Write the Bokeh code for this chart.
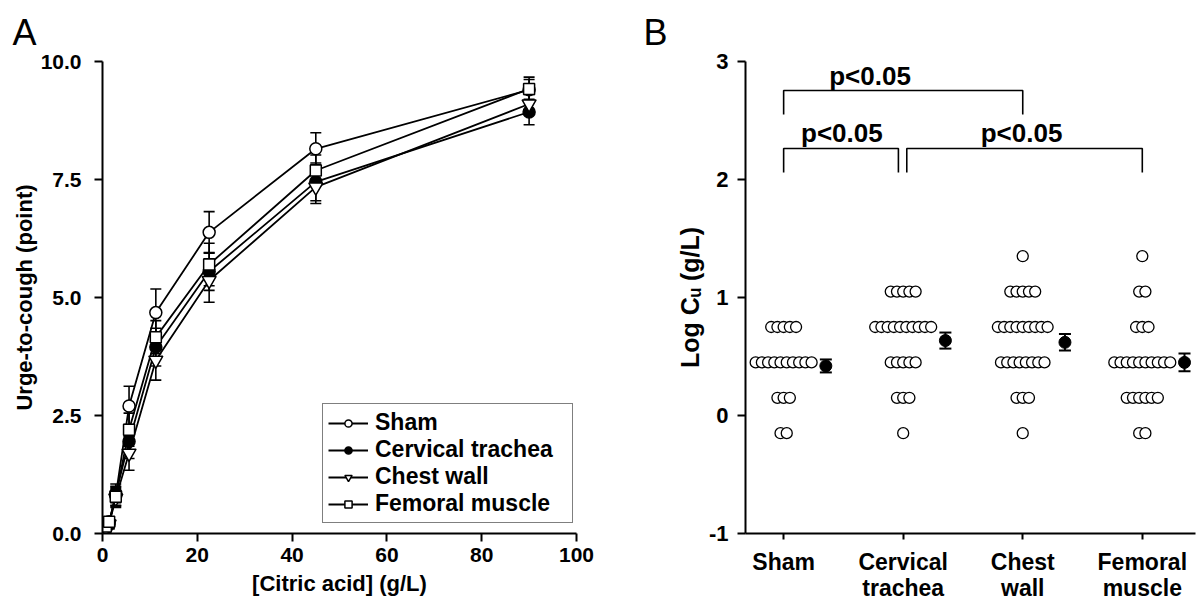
import numpy as np
from bokeh.plotting import figure
from bokeh.layouts import row
from bokeh.models import (ColumnDataSource, Whisker, TeeHead, FixedTicker,
                          NumeralTickFormatter, Legend, LegendItem, Range1d)
from bokeh.core.properties import value
from bokeh.embed import file_html
from bokeh.resources import INLINE

FONT = "Liberation Sans"

# ---------------- Panel A data ----------------
citric_acid = [0.7, 1.4, 2.8, 5.6, 11.25, 22.5, 45, 90]
series_names = ["Sham", "Cervical trachea", "Chest wall", "Femoral muscle"]
sham_mean = [0.10, 0.25, 0.80, 2.70, 4.68, 6.38, 8.15, 9.40]
sham_sem = [0.05, 0.10, 0.20, 0.42, 0.50, 0.44, 0.34, 0.22]
cerv_mean = [0.10, 0.20, 0.85, 1.95, 3.95, 5.55, 7.45, 8.93]
cerv_sem = [0.05, 0.10, 0.20, 0.36, 0.40, 0.40, 0.40, 0.27]
chest_mean = [0.10, 0.20, 0.75, 1.70, 3.67, 5.36, 7.34, 9.10]
chest_sem = [0.05, 0.10, 0.20, 0.36, 0.42, 0.46, 0.35, 0.20]
fem_mean = [0.15, 0.25, 0.78, 2.20, 4.16, 5.70, 7.69, 9.42]
fem_sem = [0.05, 0.10, 0.20, 0.35, 0.35, 0.45, 0.33, 0.25]
a_yticks = [0, 2.5, 5, 7.5, 10]
a_xticks = [0, 20, 40, 60, 80, 100]

# ---------------- Panel B data ----------------
group_labels = ["Sham", "Cervical\ntrachea", "Chest\nwall", "Femoral\nmuscle"]
sham_logcu = [0.75, 0.75, 0.75, 0.75, 0.75,
              0.45, 0.45, 0.45, 0.45, 0.45, 0.45, 0.45, 0.45, 0.45, 0.45,
              0.15, 0.15, 0.15, -0.15, -0.15]
cerv_logcu = [1.05, 1.05, 1.05, 1.05, 1.05,
              0.75, 0.75, 0.75, 0.75, 0.75, 0.75, 0.75, 0.75, 0.75, 0.75,
              0.45, 0.45, 0.45, 0.45, 0.45,
              0.15, 0.15, 0.15, -0.15]
chest_logcu = [1.35, 1.05, 1.05, 1.05, 1.05, 1.05,
               0.75, 0.75, 0.75, 0.75, 0.75, 0.75, 0.75, 0.75, 0.75,
               0.45, 0.45, 0.45, 0.45, 0.45, 0.45, 0.45, 0.45,
               0.15, 0.15, 0.15, -0.15]
fem_logcu = [1.35, 1.05, 1.05, 0.75, 0.75, 0.75,
             0.45, 0.45, 0.45, 0.45, 0.45, 0.45, 0.45, 0.45, 0.45, 0.45,
             0.15, 0.15, 0.15, 0.15, 0.15, 0.15, -0.15, -0.15]
group_mean = [0.42, 0.635, 0.62, 0.45]
group_sem = [0.055, 0.068, 0.07, 0.075]
b_yticks = [-1, 0, 1, 2, 3]
b_ytick_labels = ["-1", "0", "1", "2", "3"]
sig_label = "p<0.05"


def style_axes(p, tick_size):
    for ax in (p.xaxis, p.yaxis):
        ax.axis_line_width = 2
        ax.axis_line_color = "black"
        ax.major_tick_line_width = 2
        ax.major_tick_line_color = "black"
        ax.major_tick_out = 8
        ax.major_tick_in = 0
        ax.minor_tick_line_color = None
        ax.major_label_text_font = FONT
        ax.major_label_text_font_style = "bold"
        ax.major_label_text_font_size = tick_size
        ax.major_label_text_color = "black"
        ax.axis_label_text_font = FONT
        ax.axis_label_text_font_style = "bold"
        ax.axis_label_text_font_size = "22px"
        ax.axis_label_text_color = "black"
    p.xgrid.visible = False
    p.ygrid.visible = False
    p.outline_line_color = None
    p.background_fill_color = "white"
    p.border_fill_color = "white"
    p.title.text_font = FONT
    p.title.text_font_style = "normal"
    p.title.text_font_size = "36px"
    p.title.text_color = "black"
    p.title.align = "left"
    p.title.standoff = 18


H = 606
# ================= Panel A =================
pA = figure(width=610, height=H, x_range=Range1d(0, 100), y_range=Range1d(0, 10),
            output_backend="svg", toolbar_location=None, title="A",
            min_border_left=102, min_border_right=34, min_border_top=61,
            min_border_bottom=H - 533)
style_axes(pA, "21px")
pA.title.offset = -90
pA.xaxis.ticker = FixedTicker(ticks=a_xticks)
pA.yaxis.ticker = FixedTicker(ticks=a_yticks)
pA.yaxis.formatter = NumeralTickFormatter(format="0.0")
pA.xaxis.axis_label = "[Citric acid] (g/L)"
pA.yaxis.axis_label = "Urge-to-cough (point)"
pA.xaxis.major_label_standoff = 6
pA.yaxis.major_label_standoff = 13
pA.xaxis.axis_label_standoff = 6
pA.yaxis.axis_label_standoff = 1

series = [
    (sham_mean, sham_sem, "circle", "white", 12),
    (cerv_mean, cerv_sem, "circle", "black", 12),
    (chest_mean, chest_sem, "inverted_triangle", "white", 14),
    (fem_mean, fem_sem, "square", "white", 11),
]
line_rs = []
for (m, s, mk, fill, sz) in series:
    line_rs.append(pA.line(citric_acid, m, line_color="black", line_width=1.8))
for (m, s, mk, fill, sz) in series:
    src = ColumnDataSource(dict(x=citric_acid, up=[a + b for a, b in zip(m, s)],
                                lo=[a - b for a, b in zip(m, s)]))
    pA.add_layout(Whisker(source=src, base="x", upper="up", lower="lo", dimension="height",
                          line_color="black", line_width=1.6,
                          upper_head=TeeHead(size=11, line_width=1.6, line_color="black"),
                          lower_head=TeeHead(size=11, line_width=1.6, line_color="black")))
items = []
for (m, s, mk, fill, sz), lr, name in zip(series, line_rs, series_names):
    sr = pA.scatter(citric_acid, m, marker=mk, size=sz, fill_color=fill,
                    line_color="black", line_width=1.5)
    items.append(LegendItem(label=name, renderers=[lr, sr]))

legend = Legend(items=items, location=(220, 10))
legend.label_text_font = FONT
legend.label_text_font_style = "bold"
legend.label_text_font_size = "23px"
legend.label_text_line_height = 1.0
legend.label_text_color = "black"
legend.glyph_width = 40
legend.glyph_height = 18
legend.label_height = 18
legend.label_width = 192
legend.spacing = 0
legend.padding = 5
legend.margin = 0
legend.label_standoff = 7
legend.border_line_color = "black"
legend.border_line_width = 1.5
legend.background_fill_alpha = 1
pA.add_layout(legend)

# ================= Panel B =================
pB = figure(width=588, height=H, x_range=Range1d(0.681, 4.445), y_range=Range1d(-1, 3),
            output_backend="svg", toolbar_location=None, title="B",
            min_border_left=135, min_border_right=3, min_border_top=61,
            min_border_bottom=H - 533)
style_axes(pB, "23px")
pB.title.offset = -102
pB.yaxis.ticker = FixedTicker(ticks=b_yticks)
pB.yaxis.major_label_overrides = dict(zip(b_yticks, b_ytick_labels))
pB.yaxis.major_label_text_font_size = "22px"
pB.xaxis.ticker = FixedTicker(ticks=[1, 2, 3, 4])
pB.xaxis.major_label_overrides = {i + 1: lab for i, lab in enumerate(group_labels)}
pB.xaxis.major_label_text_line_height = 1.0
pB.xaxis.major_tick_out = 6
pB.xaxis.major_label_standoff = 9
pB.yaxis.major_label_standoff = 9
pB.yaxis.axis_label = "Log C\u1d64 (g/L)"
pB.yaxis.axis_label_text_font_size = "25px"
pB.yaxis.axis_label_standoff = 2

# individual points, spread horizontally within each value row
spacing = 0.052
xs, ys = [], []
for gi, vals in enumerate([sham_logcu, cerv_logcu, chest_logcu, fem_logcu]):
    for u in sorted(set(vals)):
        n = vals.count(u)
        for k in range(n):
            xs.append(gi + 1 + (k - (n - 1) / 2) * spacing)
            ys.append(u)
pB.scatter(xs, ys, marker="circle", size=11, fill_color="white", line_color="black",
           line_width=1.3)

mean_x = [i + 1 + 0.353 for i in range(len(group_mean))]
msrc = ColumnDataSource(dict(x=mean_x, up=[a + b for a, b in zip(group_mean, group_sem)],
                             lo=[a - b for a, b in zip(group_mean, group_sem)]))
pB.add_layout(Whisker(source=msrc, base="x", upper="up", lower="lo", dimension="height",
                      line_color="black", line_width=2,
                      upper_head=TeeHead(size=12, line_width=2, line_color="black"),
                      lower_head=TeeHead(size=12, line_width=2, line_color="black")))
pB.scatter(mean_x, group_mean, marker="circle", size=12, fill_color="black", line_color="black")

# significance brackets
br_xs = [[1, 1, 3, 3], [1, 1, 1.96, 1.96], [2.03, 2.03, 4, 4]]
br_ys = [[2.55, 2.754, 2.754, 2.55], [2.06, 2.263, 2.263, 2.06], [2.06, 2.263, 2.263, 2.06]]
pB.multi_line(br_xs, br_ys, line_color="black", line_width=1.6)
pB.text(x=[1.723, 1.487, 2.99], y=[2.873, 2.39, 2.39], text=[sig_label] * 3,
        text_font=value(FONT), text_font_style="bold", text_font_size="26px",
        text_align="center", text_baseline="middle", text_color="black")

layout = row(pA, pB)
open("out.html", "w").write(file_html(layout, INLINE))
